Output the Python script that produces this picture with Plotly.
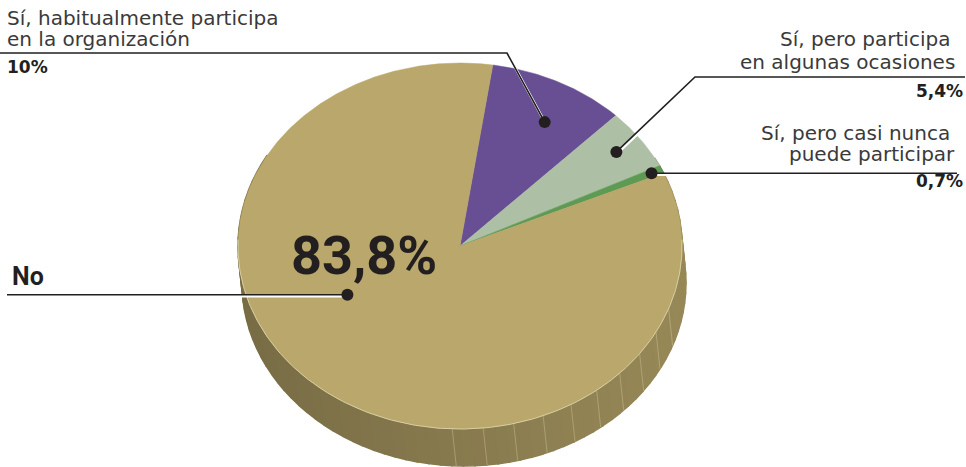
import numpy as np
import plotly.graph_objects as go

# data
categories = [
    "Sí, habitualmente participa en la organización",
    "Sí, pero participa en algunas ocasiones",
    "Sí, pero casi nunca puede participar",
    "No",
]
values = [10.0, 5.4, 0.7, 83.8]
value_text = ["10%", "5,4%", "0,7%", "83,8%"]
label_lines = [
    ["Sí, habitualmente participa", "en la organización"],
    ["Sí, pero participa", "en algunas ocasiones"],
    ["Sí, pero casi nunca", "puede participar"],
    ["No"],
]
colors = ["#684f94", "#adbfa5", "#5f9a55", "#b9a76b"]

# geometry of the tilted pie (pixels)
W, H = 966, 467
cx, cy, rx, ry = 460, 246, 222, 183
depth_x, depth_y = 4, 37
start_deg = 8.5
FONT = "DejaVu Sans"


def pt(t_deg, r=1.0):
    t = np.radians(t_deg)
    return cx + r * rx * np.sin(t), cy - r * ry * np.cos(t)


def shade(hex_color, f):
    h = hex_color.lstrip("#")
    rgb = [int(h[i:i + 2], 16) for i in (0, 2, 4)]
    return "rgb(%d,%d,%d)" % tuple(min(255, int(c * f)) for c in rgb)


total = sum(values)
bounds = [start_deg]
for v in values:
    bounds.append(bounds[-1] + v / total * 360)

fig = go.Figure()

# side wall facets
facets = []
for i, c in enumerate(colors):
    a0, a1 = bounds[i], bounds[i + 1]
    n = max(1, int(np.ceil((a1 - a0) / 3)))
    edges = np.linspace(a0, a1, n + 1)
    for t0, t1 in zip(edges[:-1], edges[1:]):
        tm = (t0 + t1) / 2 % 360
        if 60 < tm < 300:
            facets.append((-np.cos(np.radians(tm)), t0, t1, c, tm))
facets.sort()
for _, t0, t1, c, tm in facets:
    ts = np.linspace(t0, t1, 4)
    xs, ys = pt(ts)
    f = 0.735 + 0.085 * np.sin(np.radians(tm))
    fig.add_trace(go.Scatter(
        x=np.r_[xs, xs[::-1] + depth_x, xs[0]],
        y=np.r_[ys, ys[::-1] + depth_y, ys[0]],
        mode="lines", fill="toself", fillcolor=shade(c, f),
        line=dict(width=1.5, color=shade(c, f)), hoverinfo="skip", showlegend=False,
    ))

# faint facet seams on the front-right of the wall
for t in range(110, 190, 8):
    x0, y0 = pt(t)
    fig.add_trace(go.Scatter(
        x=[x0, x0 + depth_x], y=[y0, y0 + depth_y], mode="lines",
        line=dict(width=0.7, color="rgba(225,215,175,0.5)"),
        hoverinfo="skip", showlegend=False,
    ))

# top slices
for i, c in enumerate(colors):
    ts = np.linspace(bounds[i], bounds[i + 1], max(3, int(bounds[i + 1] - bounds[i]) * 2))
    xs, ys = pt(ts)
    fig.add_trace(go.Scatter(
        x=np.r_[cx, xs, cx], y=np.r_[cy, ys, cy],
        mode="lines", fill="toself", fillcolor=c, line=dict(width=0.5, color=c),
        name=categories[i], text=value_text[i], hoverinfo="name+text", showlegend=False,
    ))

# light rim on the front edge
ts = np.linspace(88, 272, 200)
xs, ys = pt(ts)
fig.add_trace(go.Scatter(x=xs, y=ys, mode="lines", line=dict(width=1, color="#d8cfa3"),
                         hoverinfo="skip", showlegend=False))

# leader lines
anchor_frac = [0.58, 0.48, 0.5, 0.582]
anchor_r = [0.777, 0.872, 0.95, 0.573]
dots = []
for i in range(4):
    a = bounds[i] + anchor_frac[i] * (bounds[i + 1] - bounds[i])
    dots.append(pt(a, anchor_r[i]))

paths = [
    [(0, 53), (507, 53), dots[0]],
    [(965, 77), (695, 77), dots[1]],
    [(957, dots[2][1]), dots[2]],
    [(7, dots[3][1]), dots[3]],
]
for p in paths:
    px_, py_ = zip(*p)
    fig.add_trace(go.Scatter(x=[v + 1 for v in px_], y=[v + 1.5 for v in py_], mode="lines",
                             line=dict(width=2.5, color="white"), hoverinfo="skip", showlegend=False))
    fig.add_trace(go.Scatter(x=px_, y=py_, mode="lines",
                             line=dict(width=1.6, color="#231f20"), hoverinfo="skip", showlegend=False))
fig.add_trace(go.Scatter(
    x=[d[0] for d in dots], y=[d[1] for d in dots], mode="markers",
    marker=dict(size=12, color="#231f20"), hoverinfo="skip", showlegend=False,
))


def txt(s, x, baseline, size, align, bold=False, color="#3a3a3a", family=FONT):
    fig.add_annotation(
        x=x, y=baseline - 0.36 * size, xref="x", yref="y", text=("<b>%s</b>" % s) if bold else s,
        showarrow=False, xanchor=align, yanchor="middle",
        font=dict(family=family, size=size, color=color),
    )


txt(label_lines[0][0], 5, 25, 20, "left")
txt(label_lines[0][1], 5, 46, 20, "left")
txt(value_text[0], 5, 73, 17, "left", True, "#231f20")

txt(label_lines[1][0], 952, 46, 20, "right")
txt(label_lines[1][1], 957, 69, 20, "right")
txt(value_text[1], 965, 97, 17, "right", True, "#231f20")

txt(label_lines[2][0], 952, 140, 20, "right")
txt(label_lines[2][1], 957, 161, 20, "right")
txt(value_text[2], 965, 187, 17, "right", True, "#231f20")

txt(label_lines[3][0], 10, 285, 25, "left", True, "#231f20", "Roboto")
txt(value_text[3], 364, 275, 54, "center", True, "#231f20", "Roboto")

fig.update_xaxes(range=[0, W], visible=False, fixedrange=True)
fig.update_yaxes(range=[H, 0], visible=False, fixedrange=True)
fig.update_layout(
    width=W, height=H, margin=dict(l=0, r=0, t=0, b=0),
    paper_bgcolor="white", plot_bgcolor="white",
)
fig.write_html("out.html", config={"displayModeBar": False},
               post_script="document.body.style.margin='0';")
